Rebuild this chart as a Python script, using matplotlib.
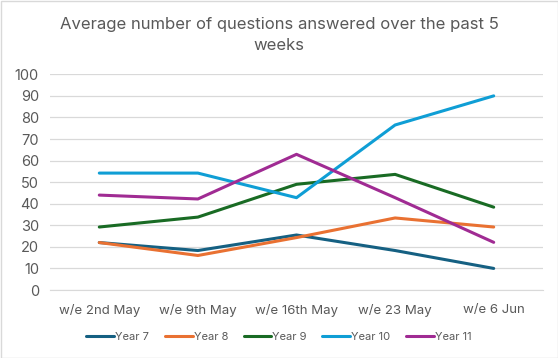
import matplotlib
matplotlib.use("Agg")
import matplotlib.pyplot as plt
from matplotlib.patches import Rectangle

categories = ["w/e 2nd May", "w/e 9th May", "w/e 16th May", "w/e 23 May", "w/e 6 Jun"]
year7 = [22, 18.3, 25.5, 18.3, 10]
year8 = [22, 16, 24.3, 33.4, 29.2]
year9 = [29.2, 33.8, 49, 53.6, 38.4]
year10 = [54.2, 54.2, 42.8, 76.5, 90]
year11 = [44, 42.2, 62.9, 42.8, 22.1]
series_names = ["Year 7", "Year 8", "Year 9", "Year 10", "Year 11"]
colors = ["#156082", "#E97132", "#196B24", "#0F9ED5", "#A02B93"]
yticks = list(range(0, 101, 10))

plt.rcParams['font.family'] = ['Inter', 'DejaVu Sans']
txt = "#595959"

fig = plt.figure(figsize=(5.58, 3.58), dpi=100)
ax = fig.add_axes([50/558, 1-290/358, 493/558, (290-74.3)/358])

x = range(len(categories))
for vals, name, c in zip([year7, year8, year9, year10, year11], series_names, colors):
    ax.plot(x, vals, color=c, lw=2.2, label=name, solid_capstyle='round')

ax.set_xlim(-0.5, len(categories) - 0.5)
ax.set_ylim(0, 100)
ax.set_yticks(yticks)
ax.set_xticks(list(x))
ax.set_xticklabels(categories)
ax.grid(axis='y', color='#D9D9D9', lw=0.9)
ax.set_axisbelow(True)
for s in ax.spines.values():
    s.set_visible(False)
ax.spines['bottom'].set_visible(True)
ax.spines['bottom'].set_color('#D9D9D9')
ax.tick_params(axis='both', length=0, colors=txt, labelsize=10.5)
ax.tick_params(axis='x', labelsize=9.5, pad=10)
ax.tick_params(axis='y', pad=8)

fig.text(0.5, 1-35/358, "Average number of questions answered over the past 5\nweeks",
         ha='center', va='center', fontsize=12, color=txt, linespacing=1.45)

leg = fig.legend(loc='center', bbox_to_anchor=(0.5, 1-337/358), ncol=5, frameon=False,
                 fontsize=8, labelcolor=txt, handlelength=2.5, handletextpad=0.1,
                 columnspacing=1.4)

fig.patches.append(Rectangle((0.5/558, 0.5/358), 1-1/558, 1-1/358, transform=fig.transFigure,
                             fill=False, edgecolor='#D9D9D9', lw=1))
fig.savefig("out.png", dpi=100)
